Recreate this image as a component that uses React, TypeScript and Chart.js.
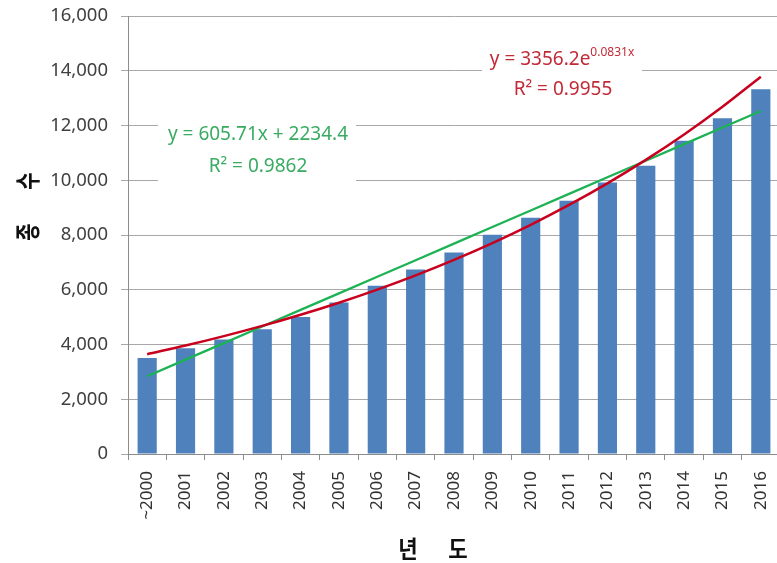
import { useEffect, useRef } from 'react';
import { Chart, registerables } from 'chart.js';

Chart.register(...registerables);

// Registered species per year
const years = ['~2000', '2001', '2002', '2003', '2004', '2005', '2006', '2007', '2008', '2009', '2010', '2011', '2012', '2013', '2014', '2015', '2016'];
const speciesCounts = [3510, 3864, 4183, 4559, 5009, 5535, 6142, 6742, 7363, 8007, 8628, 9250, 9922, 10529, 11443, 12262, 13323];

// Y axis range
const yMin = 0;
const yMax = 16000;
const yStep = 2000;

// Fitted trendlines (x = 1 .. n)
const LINEAR_SLOPE = 605.71;
const LINEAR_INTERCEPT = 2234.4;
const LINEAR_R2 = '0.9862';
const EXP_COEF = 3356.2;
const EXP_RATE = 0.0831;
const EXP_R2 = '0.9955';

const xTitleChars = ['년', '도'];
const yTitleChars = ['종', '수'];

const BAR_BLUE = '#4f81bd';
const LINE_GREEN = '#1db355';
const TEXT_GREEN = '#3aab62';
const LINE_RED = '#c8001e';
const TEXT_RED = '#c22a38';
const GRID_GRAY = '#a8a8a8';
const AXIS_GRAY = '#8c8c8c';
const NUM_FONT = "'Noto Sans', 'DejaVu Sans', sans-serif";
const KR_FONT = "'Noto Sans CJK KR', 'Noto Sans', sans-serif";

const linearTrend = years.map((_, i) => LINEAR_SLOPE * (i + 1) + LINEAR_INTERCEPT);
const expTrend = years.map((_, i) => EXP_COEF * Math.exp(EXP_RATE * (i + 1)));

// scales keep their fitted size but claim no extra edge padding for labels
const noEdgePadding = (s: any) => {
  s.paddingTop = 0;
  s.paddingBottom = 0;
  s.paddingLeft = 0;
  s.paddingRight = 0;
};

const labelPlugin = {
  id: 'trendLabels',
  afterDatasetsDraw(chart: any) {
    const { ctx } = chart;
    ctx.save();

    // white boxes behind the equation labels
    ctx.fillStyle = '#ffffff';
    ctx.fillRect(158, 112, 198, 78);
    ctx.fillRect(482, 40, 160, 62);

    ctx.textBaseline = 'middle';
    ctx.textAlign = 'center';

    // linear fit label
    ctx.fillStyle = TEXT_GREEN;
    ctx.font = `19px ${NUM_FONT}`;
    ctx.fillText(`y = ${LINEAR_SLOPE}x + ${LINEAR_INTERCEPT}`, 258, 135);
    ctx.fillText(`R² = ${LINEAR_R2}`, 258, 167);

    // exponential fit label with superscript exponent
    ctx.fillStyle = TEXT_RED;
    const base = `y = ${EXP_COEF}e`;
    const sup = `${EXP_RATE}x`;
    ctx.font = `19px ${NUM_FONT}`;
    const wBase = ctx.measureText(base).width;
    ctx.font = `12px ${NUM_FONT}`;
    const wSup = ctx.measureText(sup).width;
    const startX = 562 - (wBase + wSup) / 2;
    ctx.textAlign = 'left';
    ctx.font = `19px ${NUM_FONT}`;
    ctx.fillText(base, startX, 60);
    ctx.font = `12px ${NUM_FONT}`;
    ctx.fillText(sup, startX + wBase, 53);
    ctx.textAlign = 'center';
    ctx.font = `19px ${NUM_FONT}`;
    ctx.fillText(`R² = ${EXP_R2}`, 563, 90);

    ctx.restore();
  },
  afterDraw(chart: any) {
    const { ctx } = chart;
    ctx.save();
    ctx.fillStyle = '#111111';
    ctx.textAlign = 'center';
    ctx.textBaseline = 'middle';

    // x axis title
    ctx.font = `bold 24px ${KR_FONT}`;
    const xCenters = [408, 458];
    xTitleChars.forEach((ch, i) => {
      ctx.save();
      ctx.translate(xCenters[i], 549);
      ctx.scale(0.88, 1);
      ctx.fillText(ch, 0, 0);
      ctx.restore();
    });

    // y axis title, rotated
    ctx.font = `bold 25px ${KR_FONT}`;
    const yCenters = [232, 181];
    yTitleChars.forEach((ch, i) => {
      ctx.save();
      ctx.translate(27, yCenters[i]);
      ctx.rotate(-Math.PI / 2);
      ctx.scale(0.75, 1);
      ctx.fillText(ch, 0, 0);
      ctx.restore();
    });
    ctx.restore();
  },
};

export default function App() {
  const canvasRef = useRef<HTMLCanvasElement | null>(null);

  useEffect(() => {
    const canvas = canvasRef.current;
    if (!canvas) return;
    const chart = new Chart(canvas, {
      type: 'bar',
      data: {
        labels: years,
        datasets: [
          {
            type: 'line',
            label: 'exp',
            data: expTrend,
            borderColor: LINE_RED,
            borderWidth: 2.5,
            pointRadius: 0,
            cubicInterpolationMode: 'monotone',
            order: 0,
          } as any,
          {
            type: 'line',
            label: 'linear',
            data: linearTrend,
            borderColor: LINE_GREEN,
            borderWidth: 2.3,
            pointRadius: 0,
            order: 1,
          } as any,
          {
            type: 'bar',
            label: 'count',
            data: speciesCounts,
            backgroundColor: BAR_BLUE,
            categoryPercentage: 1,
            barPercentage: 0.5,
            order: 2,
          },
        ],
      },
      options: {
        responsive: false,
        animation: false,
        devicePixelRatio: 1,
        locale: 'en-US',
        layout: { padding: { top: 16, right: 0, bottom: 0, left: 0 } },
        plugins: {
          legend: { display: false },
          tooltip: { enabled: false },
          title: { display: false },
        },
        scales: {
          x: {
            offset: true,
            grid: {
              display: true,
              drawOnChartArea: false,
              drawTicks: true,
              tickLength: 6,
              color: AXIS_GRAY,
              offset: true,
            },
            border: { display: true, color: AXIS_GRAY, width: 1 },
            ticks: {
              minRotation: 90,
              maxRotation: 90,
              autoSkip: false,
              padding: 11,
              color: '#333333',
              font: { family: NUM_FONT, size: 17 },
            },
            afterFit: (s: any) => {
              s.height = 109;
              noEdgePadding(s);
            },
          },
          y: {
            min: yMin,
            max: yMax,
            ticks: {
              stepSize: yStep,
              padding: 13,
              color: '#404040',
              font: { family: NUM_FONT, size: 18.5 },
            },
            grid: {
              color: GRID_GRAY,
              lineWidth: 1,
              drawTicks: true,
              tickLength: 7,
            },
            border: { display: true, color: AXIS_GRAY, width: 1 },
            afterFit: (s: any) => {
              s.width = 128;
              noEdgePadding(s);
            },
          },
        },
      },
      plugins: [labelPlugin],
    });

    return () => chart.destroy();
  }, []);

  return (
    <div style={{ position: 'absolute', left: 0, top: 0, width: 777, height: 563, overflow: 'hidden', background: '#ffffff' }}>
      <canvas ref={canvasRef} width={780} height={563} style={{ display: 'block', width: 780, height: 563 }} />
    </div>
  );
}
